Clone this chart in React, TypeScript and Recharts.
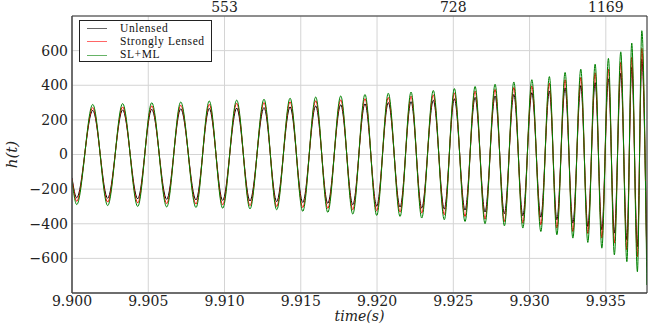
import { LineChart, Line, XAxis, YAxis, CartesianGrid, Legend } from "recharts";

// extrema of the waveform (start point, then alternating trough / peak)
const times = [
  9.9, 9.90031, 9.90136, 9.90234, 9.90332, 9.90431, 9.90523, 9.90621, 9.90713, 9.90813,
  9.909, 9.90988, 9.9108, 9.91167, 9.91259, 9.91342, 9.9143, 9.91513, 9.91598, 9.91677,
  9.91762, 9.91841, 9.91921, 9.91998, 9.92074, 9.92151, 9.92223, 9.92293, 9.92369, 9.92441,
  9.92507, 9.92577, 9.92643, 9.92708, 9.92774, 9.92835, 9.92897, 9.92956, 9.93015, 9.93074,
  9.9313, 9.93179, 9.93233, 9.93284, 9.93336, 9.93382, 9.9343, 9.93474, 9.93517, 9.93556,
  9.93598, 9.93638, 9.9367, 9.93707, 9.93736, 9.93769,
];

const unlensed = [
  -135, -250, 255, -253, 258, -256, 261, -259, 264, -262,
  266, -265, 268, -268, 271, -272, 275, -277, 280, -282,
  287, -290, 293, -298, 300, -303, 306, -309, 313, -315,
  322, -321, 330, -332, 338, -342, 347, -354, 357, -362,
  367, -377, 385, -396, 398, -416, 415, -435, 437, -454,
  470, -493, 503, -532, 551, -609,
];

const stronglyLensed = [
  -140, -270, 271, -275, 275, -279, 280, -283, 284, -286,
  289, -290, 295, -295, 300, -300, 304, -306, 310, -311,
  315, -319, 323, -325, 329, -332, 337, -338, 344, -348,
  356, -358, 366, -373, 376, -387, 387, -396, 396, -406,
  412, -425, 432, -445, 445, -456, 472, -483, 493, -512,
  532, -551, 561, -590, 613, -648,
];

const slPlusMl = [
  -150, -289, 289, -295, 294, -300, 299, -303, 303, -306,
  309, -310, 314, -314, 319, -319, 325, -328, 332, -334,
  338, -344, 347, -352, 354, -358, 361, -367, 370, -377,
  381, -387, 393, -400, 406, -412, 419, -425, 432, -445,
  450, -464, 474, -483, 493, -508, 522, -541, 555, -580,
  593, -619, 644, -677, 715, -754,
];

const seriesNames = ["Unlensed", "Strongly Lensed", "SL+ML"];
const seriesColors = ["#000000", "#ff0000", "#008000"];

const xTicks = [9.9, 9.905, 9.91, 9.915, 9.92, 9.925, 9.93, 9.935];
const yTicks = [-600, -400, -200, 0, 200, 400, 600];
const topTicks = [9.91, 9.925, 9.935];
const topLabels = ["553", "728", "1169"];

const data = times.map((t, i) => ({
  t,
  unlensed: unlensed[i],
  strongly: stronglyLensed[i],
  slml: slPlusMl[i],
}));

const tickStyle = { fontSize: 14, fill: "#222", fontFamily: "DejaVu Serif" };
const xDomain: [number, number] = [9.9, 9.9377];
const yDomain: [number, number] = [-800, 800];

function LegendBox() {
  return (
    <div
      style={{
        width: 133,
        height: 42,
        boxSizing: "border-box",
        border: "1.5px solid #222",
        background: "#fff",
        paddingTop: 1,
        paddingLeft: 7,
      }}
    >
      {seriesNames.map((name, i) => (
        <div key={name} style={{ display: "flex", alignItems: "center", height: 13.3 }}>
          <span
            style={{
              width: 20,
              height: 0,
              borderTop: `1px solid ${seriesColors[i]}`,
              marginRight: 13,
              opacity: 0.6,
            }}
          />
          <span
            style={{
              fontFamily: "Liberation Serif",
              fontSize: 11.5,
              letterSpacing: 0.6,
              color: "#111",
              lineHeight: 1,
            }}
          >
            {name}
          </span>
        </div>
      ))}
    </div>
  );
}

export default function App() {
  return (
    <div style={{ position: "absolute", left: 0, top: 0, background: "#fff" }}>
      <LineChart width={654} height={327} data={data} margin={{ top: 0, right: 0, left: 0, bottom: 0 }}>
        <CartesianGrid stroke="#d4d4d4" strokeWidth={1} />
        <XAxis
          dataKey="t"
          type="number"
          domain={xDomain}
          allowDataOverflow
          ticks={xTicks}
          tickFormatter={(v: number) => v.toFixed(3)}
          tick={tickStyle}
          tickLine={false}
          tickSize={3}
          tickMargin={0}
          height={34}
          axisLine={{ stroke: "#444", strokeWidth: 1.5 }}
          label={{
            value: "time(s)",
            position: "insideBottom",
            offset: 6,
            style: { fontFamily: "DejaVu Serif", fontStyle: "italic", fontSize: 14, fill: "#222" },
          }}
        />
        <XAxis
          xAxisId="top"
          orientation="top"
          dataKey="t"
          type="number"
          domain={xDomain}
          allowDataOverflow
          ticks={topTicks}
          tickFormatter={(v: number) => topLabels[topTicks.findIndex((t) => Math.abs(t - v) < 1e-7)] ?? ""}
          tick={tickStyle}
          tickLine={false}
          tickSize={3}
          tickMargin={1}
          height={16}
          axisLine={{ stroke: "#333", strokeWidth: 1 }}
        />
        <YAxis
          type="number"
          domain={yDomain}
          allowDataOverflow
          ticks={yTicks}
          tickFormatter={(v: number) => (v < 0 ? `\u2212${Math.abs(v)}` : String(v))}
          tick={tickStyle}
          tickLine={false}
          tickSize={2}
          tickMargin={2}
          width={72}
          axisLine={{ stroke: "#444", strokeWidth: 1.5 }}
          label={{
            value: "h(t)",
            angle: -90,
            position: "insideLeft",
            offset: 12,
            style: { textAnchor: "middle", fontFamily: "DejaVu Serif", fontStyle: "italic", fontSize: 15, fill: "#222" },
          }}
        />
        <YAxis
          yAxisId="right"
          orientation="right"
          type="number"
          domain={yDomain}
          allowDataOverflow
          ticks={yTicks}
          tick={false}
          tickLine={false}
          width={7}
          axisLine={{ stroke: "#333", strokeWidth: 1 }}
        />
        <Legend
          content={<LegendBox />}
          layout="horizontal"
          verticalAlign="middle"
          align="center"
          wrapperStyle={{ left: 79, top: 20, width: 133, height: 42 }}
        />
        <Line
          type="monotone"
          dataKey="unlensed"
          name={seriesNames[0]}
          stroke={seriesColors[0]}
          strokeWidth={1}
          dot={false}
          isAnimationActive={false}
        />
        <Line
          type="monotone"
          dataKey="strongly"
          name={seriesNames[1]}
          stroke={seriesColors[1]}
          strokeWidth={1}
          dot={false}
          isAnimationActive={false}
        />
        <Line
          type="monotone"
          dataKey="slml"
          name={seriesNames[2]}
          stroke={seriesColors[2]}
          strokeWidth={1}
          dot={false}
          isAnimationActive={false}
        />
      </LineChart>
    </div>
  );
}
